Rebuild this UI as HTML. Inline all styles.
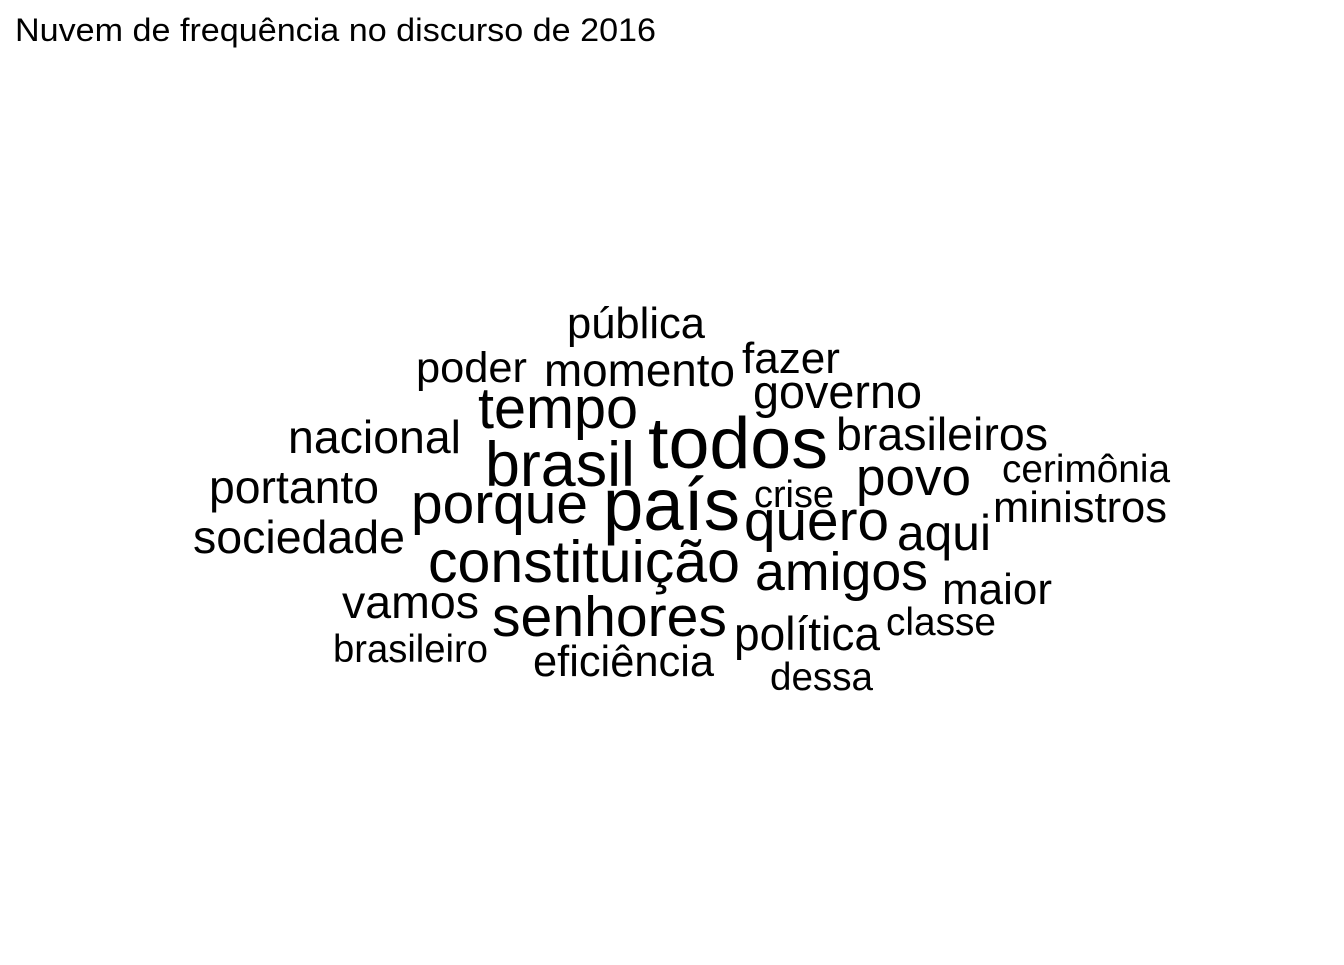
<!DOCTYPE html>
<html><head><meta charset="utf-8"><style>
html,body{margin:0;padding:0;background:#fff;}
svg text{font-family:"Liberation Sans",Arial,sans-serif;fill:#000;}
</style></head><body>
<svg id="cloud" width="1344" height="960" xmlns="http://www.w3.org/2000/svg">
<text x="15" y="41" font-size="32" textLength="641" lengthAdjust="spacingAndGlyphs">Nuvem de frequência no discurso de 2016</text>
</svg>
<script>
const words = ["todos","país","brasil","constituição","tempo","porque","senhores","quero","amigos","povo","aqui","governo","brasileiros","momento","nacional","portanto","sociedade","poder","fazer","pública","ministros","vamos","política","eficiência","maior","cerimônia","crise","classe","brasileiro","dessa"];
const sizes = [72,74,63,59,58,57,57,57,54,53,50,47,46.5,46,46.5,46,46.5,43,44,43.6,43.5,46.5,47,43.4,44,38.8,38,39,38.7,38.6];
const layoutX = [648,603,485,428,478,411,492,744,755,856,897,753,836,544,288,209,193,416,742,567,993,342,734,533,942,1002,754,886,333,770];
const layoutY = [468,530,486,582,428,523,636,540,590,495,550,408,450,386,453,503,553,382,373,338,522,618,650,676,604,482,507,635,662,690];
const widths = [180,137,150,312,160,177,235,145,173,115,94,169,212,191,173,170,212,111,98,138,174,137,146,181,110,168,80,110,155,103];
const svg = document.getElementById('cloud');
words.forEach((w,i)=>{
  const t = document.createElementNS('http://www.w3.org/2000/svg','text');
  
  
  t.setAttribute('x', layoutX[i]);
  t.setAttribute('y', layoutY[i]);
  t.setAttribute('font-size', sizes[i]);
  t.setAttribute('textLength', widths[i]);
  t.setAttribute('lengthAdjust', 'spacingAndGlyphs');
  t.textContent = w;
  svg.appendChild(t);
});
</script>
</body></html>
